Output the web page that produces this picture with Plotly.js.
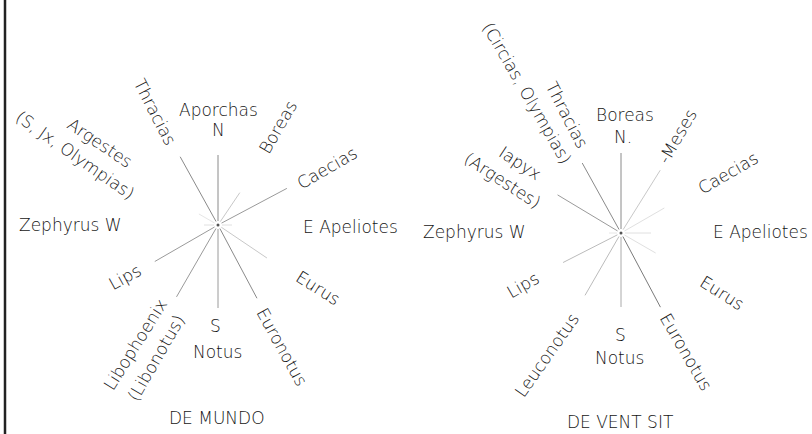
<!DOCTYPE html>
<html>
<head>
<meta charset="utf-8">
<script src="https://cdn.plot.ly/plotly-3.0.1.min.js"></script>
<style>html,body{margin:0;padding:0;background:#fff}#chart{width:812px;height:434px}</style>
</head>
<body>
<div id="chart"></div>
<script>
// ---- data: wind directions (compass bearings, degrees) and spoke lengths ----
const windsMundo    = ["N", "Boreas", "Caecias", "E", "Eurus", "Euronotus", "S", "Libophoenix", "Lips", "W", "Argestes", "Thracias"];
const bearingsMundo = [0, 34, 62, 90, 124, 152, 180, 210, 240, 270, 300, 331];
const spokesMundo   = [70, 39, 78, 14, 59, 83, 83, 83, 73, 14, 22, 78];

const windsVentis    = ["N", "Meses", "Caecias", "E", "Eurus", "Euronotus", "S", "Leuconotus", "Lips", "W", "Iapyx", "Thracias"];
const bearingsVentis = [0, 32, 60, 90, 120, 152, 180, 210, 243, 270, 301, 331];
const spokesVentis   = [80, 74, 50, 30, 40, 84, 74, 72, 65, 12, 74, 80];

// ---- label texts ----
const labelsMundo = ["Aporchas", "N", "Thracias", "Boreas", "Caecias", "Argestes", "(S, Jx, Olympias)",
  "Zephyrus W", "E Apeliotes", "Eurus", "Euronotus", "S", "Notus", "Libophoenix", "(Libonotus)", "Lips", "DE MUNDO"];
const labelsVentis = ["Boreas", "N.", "Thracias", "(Circias, Olympias)", "Iapyx", "(Argestes)", "-Meses", "Caecias",
  "Zephyrus W", "E Apeliotes", "Eurus", "Euronotus", "S", "Notus", "Leuconotus", "Lips", "DE VENT SIT"];

// ---- layout / placement (pixels, not data) ----
const roseMundo  = {cx: 218, cy: 225};
const roseVentis = {cx: 621, cy: 233};
const spokeStyleMundo  = ["#8a8a8a","#c8c8c8","#9a9a9a","#e0e0e0","#c8c8c8","#8a8a8a","#9a9a9a","#9a9a9a","#9a9a9a","#e0e0e0","#e6e6e6","#8a8a8a"];
const spokeStyleVentis = ["#8a8a8a","#c8c8c8","#e0e0e0","#e0e0e0","#e0e0e0","#7a7a7a","#aaaaaa","#bbbbbb","#bbbbbb","#e6e6e6","#9a9a9a","#8a8a8a"];
const placeMundo = [[0,-115,0],[0,-95,0],[-63,-113,63],[60,-98,-60],[109,-57,-30],[-118,-82,34],[-143,-70,35],
  [-148,0,0],[132,2,0],[100,63,32],[64,122,61],[-3,101,0],[-1,127,0],[-83,120,-58],[-62,133,-60],[-93,52,-29],[-1,193,0]];
const placeVentis = [[4,-118,0],[2,-96,0],[-54,-118,63],[-94,-140,60],[-101,-70,33],[-119,-53,33],[56,-96,-60],[107,-60,-30],
  [-147,-1,0],[139,-1,0],[101,60,32],[65,119,60],[-1,102,0],[-2,125,0],[-74,122,-55],[-98,52,-30],[-1,189,0]];

const traces = [];
const annotations = [];
function addRose(rose, winds, bearings, lengths, styles, labels, places) {
  winds.forEach((w, i) => {
    const b = bearings[i] * Math.PI / 180;
    const r0 = 4, r1 = lengths[i];
    traces.push({
      type: "scatter", mode: "lines", name: w, hoverinfo: "name",
      x: [rose.cx + r0 * Math.sin(b), rose.cx + r1 * Math.sin(b)],
      y: [rose.cy - r0 * Math.cos(b), rose.cy - r1 * Math.cos(b)],
      line: {color: styles[i], width: 1}, showlegend: false
    });
  });
  traces.push({type: "scatter", mode: "markers", x: [rose.cx], y: [rose.cy],
    marker: {size: 3, color: "#555"}, showlegend: false, hoverinfo: "skip"});
  labels.forEach((t, i) => {
    const p = places[i];
    annotations.push({
      text: t, x: rose.cx + p[0], y: rose.cy + p[1], xref: "x", yref: "y",
      showarrow: false, textangle: p[2], xanchor: "center", yanchor: "middle",
      font: {family: "DejaVu Sans", size: 17, color: "#151515", weight: 300}
    });
  });
}
addRose(roseMundo, windsMundo, bearingsMundo, spokesMundo, spokeStyleMundo, labelsMundo, placeMundo);
addRose(roseVentis, windsVentis, bearingsVentis, spokesVentis, spokeStyleVentis, labelsVentis, placeVentis);

const layout = {
  width: 812, height: 434,
  margin: {l: 0, r: 0, t: 0, b: 0},
  paper_bgcolor: "#ffffff", plot_bgcolor: "#ffffff",
  xaxis: {range: [0, 812], visible: false, fixedrange: true},
  yaxis: {range: [434, 0], visible: false, fixedrange: true},
  annotations: annotations,
  shapes: [{type: "line", xref: "x", yref: "y", x0: 5, x1: 5, y0: 0, y1: 434,
    line: {color: "#222", width: 2.5}}],
  showlegend: false
};
Plotly.newPlot("chart", traces, layout, {staticPlot: true});
</script>
</body>
</html>
